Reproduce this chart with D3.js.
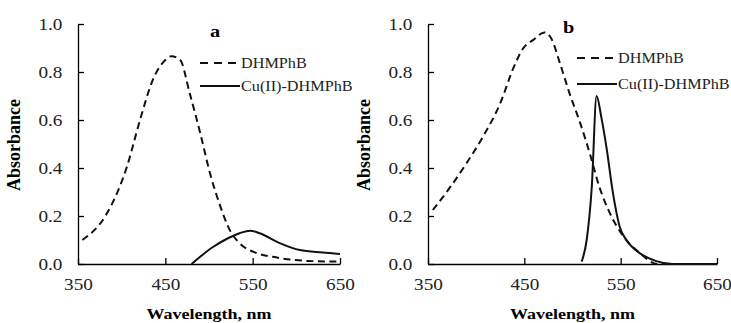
<!DOCTYPE html>
<html>
<head>
<meta charset="utf-8">
<script src="https://cdn.jsdelivr.net/npm/d3@7"></script>
<style>
  body { margin: 0; background: #fff; }
  svg { display: block; font-family: "Liberation Serif", "Times New Roman", serif; }
</style>
</head>
<body>
<svg id="chart" width="731" height="323"></svg>
<script>
// tick values shared by both panels
const xTicks = [350, 450, 550, 650];
const yTicks = [0, 0.2, 0.4, 0.6, 0.8, 1.0];

// panel a - DHMPhB (dashed)
const aDhmWl  = [355, 383, 406, 421, 436, 450, 457, 467, 478, 490, 501, 513, 524, 535, 555, 573, 612, 650];
const aDhmAbs = [0.10, 0.21, 0.405, 0.60, 0.77, 0.85, 0.866, 0.85, 0.71, 0.545, 0.38, 0.24, 0.14, 0.087, 0.045, 0.03, 0.013, 0.01];
// panel a - Cu(II)-DHMPhB (solid)
const aCuWl  = [480, 505, 518, 535, 547, 558, 581, 604, 630, 650];
const aCuAbs = [0.0, 0.072, 0.10, 0.128, 0.139, 0.128, 0.087, 0.058, 0.048, 0.042];

// panel b - DHMPhB (dashed)
const bDhmWl  = [355, 373, 390, 407, 425, 439, 449, 459, 471, 478, 487, 497, 508, 518, 528, 539, 553, 570, 588, 650];
const bDhmAbs = [0.225, 0.32, 0.42, 0.53, 0.67, 0.82, 0.90, 0.933, 0.965, 0.94, 0.836, 0.71, 0.587, 0.46, 0.32, 0.21, 0.114, 0.045, 0.0, 0.0];
// panel b - Cu(II)-DHMPhB (solid)
const bCuWl  = [509.5, 514.7, 520, 525, 530, 535.5, 542, 549, 556, 570, 587, 604, 650];
const bCuAbs = [0.01, 0.10, 0.32, 0.70, 0.61, 0.48, 0.295, 0.155, 0.10, 0.045, 0.012, 0.0, 0.0];

const seriesNames = ["DHMPhB", "Cu(II)-DHMPhB"];

const panels = [
  { label: "a", left: 78, right: 340, dhm: [aDhmWl, aDhmAbs], cu: [aCuWl, aCuAbs],
    title: [210, 37], legend: [200, 63, 86] },
  { label: "b", left: 428, right: 717, dhm: [bDhmWl, bDhmAbs], cu: [bCuWl, bCuAbs],
    title: [563, 33], legend: [577, 58, 84] }
];

const plotTop = 24, plotBottom = 264;
const sx = 1.2; // the source picture is stretched sideways
const svg = d3.select("#chart");

panels.forEach(p => {
  const x = d3.scaleLinear().domain([350, 650]).range([p.left, p.right]);
  const y = d3.scaleLinear().domain([0, 1]).range([plotBottom, plotTop]);
  const g = svg.append("g");

  // axes, ticks pointing inward
  const xa = g.append("g")
    .attr("transform", "translate(0," + plotBottom + ")")
    .call(d3.axisBottom(x).tickValues(xTicks).tickSizeInner(-6).tickSizeOuter(0).tickPadding(15));
  const ya = g.append("g")
    .attr("transform", "translate(" + p.left + ",0)")
    .call(d3.axisLeft(y).tickValues(yTicks).tickSizeInner(-6).tickSizeOuter(0).tickPadding(13)
      .tickFormat(d3.format(".1f")));
  [xa, ya].forEach(a => {
    a.selectAll("path, line").attr("stroke", "#000").attr("stroke-width", 1.3);
    a.selectAll("text").attr("font-size", 16).attr("fill", "#222")
      .attr("font-family", "'Liberation Serif', serif")
      .attr("transform", "scale(" + sx + ",1)");
  });
  xa.selectAll("text").attr("x", 0);

  const line = d3.line().x(d => x(d[0])).y(d => y(d[1])).curve(d3.curveMonotoneX);

  g.append("path")
    .datum(d3.zip(p.dhm[0], p.dhm[1]))
    .attr("d", line)
    .attr("fill", "none").attr("stroke", "#111").attr("stroke-width", 2)
    .attr("stroke-dasharray", "7,4.5");
  g.append("path")
    .datum(d3.zip(p.cu[0], p.cu[1]))
    .attr("d", line)
    .attr("fill", "none").attr("stroke", "#111").attr("stroke-width", 2);

  // panel letter
  g.append("text")
    .attr("transform", "translate(" + p.title[0] + "," + p.title[1] + ") scale(" + sx + ",1)")
    .attr("font-size", 17).attr("font-weight", "bold").text(p.label);

  // legend
  const [lx, ly1, ly2] = p.legend;
  [[ly1, "8,6"], [ly2, null]].forEach((row, i) => {
    g.append("line")
      .attr("x1", lx).attr("x2", lx + 40).attr("y1", row[0]).attr("y2", row[0])
      .attr("stroke", "#111").attr("stroke-width", 2)
      .attr("stroke-dasharray", row[1]);
    g.append("text")
      .attr("transform", "translate(" + (lx + 41) + "," + (row[0] + 5) + ") scale(1.08,1)")
      .attr("font-size", 15).attr("fill", "#222").text(seriesNames[i]);
  });

  // axis titles
  g.append("text")
    .attr("transform", "translate(" + ((p.left + p.right) / 2) + ",319) scale(" + sx + ",1)")
    .attr("text-anchor", "middle").attr("font-size", 15).attr("font-weight", "bold")
    .text("Wavelength, nm");
  g.append("text")
    .attr("transform", "translate(" + (p.left - 58) + ",145) rotate(-90)")
    .attr("text-anchor", "middle").attr("font-size", 18).attr("font-weight", "bold")
    .text("Absorbance");
});
</script>
</body>
</html>
